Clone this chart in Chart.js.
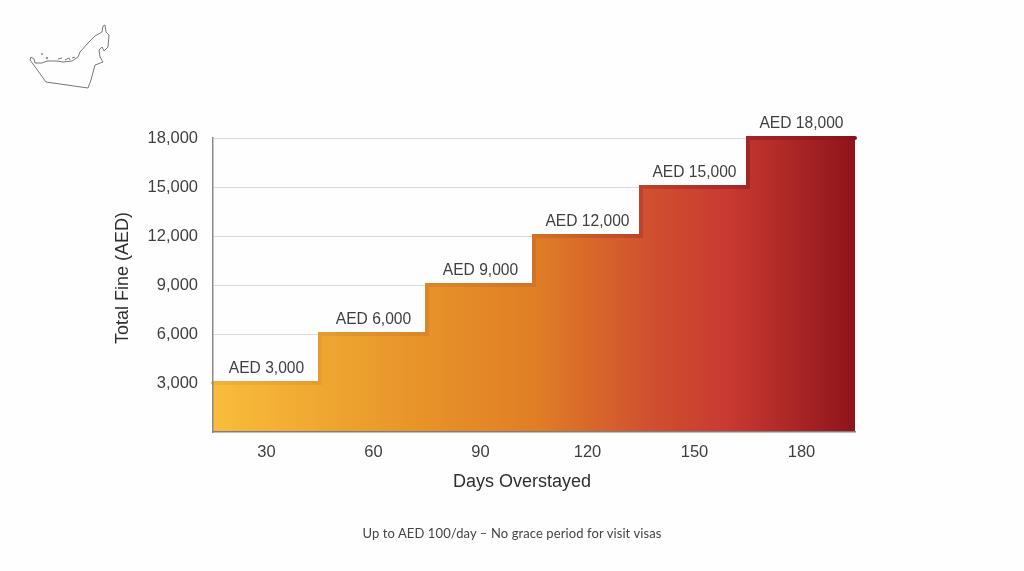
<!DOCTYPE html>
<html>
<head>
<meta charset="utf-8">
<title>UAE overstay fines</title>
<script src="https://cdn.jsdelivr.net/npm/chart.js@4"></script>
<style>
    html, body { margin: 0; padding: 0; background: #fefefe; }
    #wrap { position: relative; width: 1024px; height: 571px; overflow: hidden; }
    #fineChart { position: absolute; left: 0; top: 0; }
    #uaeMap { position: absolute; left: 0; top: 0; }
    #caption {
        position: absolute; left: 0; top: 525px; width: 1024px; text-align: center;
        font: 13px Lato, sans-serif; letter-spacing: 0.1px; color: #444;
    }
</style>
</head>
<body>
<div id="wrap">
    <canvas id="fineChart" width="1024" height="571"></canvas>
    <svg id="uaeMap" width="200" height="120" fill="none" stroke="#777" stroke-width="1">
        <path d="M31 57 L30 60 L33 64 L46 82 L88 88 L91 80 L95 65 L103 62 L100 57 L99 50 L102 47 L104 51 L108 47 L109 35 L106 32 L105 25 L103 26 L102 32 L95 36 L88 43 L80 52 L78 57 L72 61 L63 62 L57 61 L47 61 L42 63 L35 63 L34 59 Z"/>
        <path d="M58 59 L62 58 M65 60 L69 58 L70 60 M72 58 L75 57"/>
        <circle cx="42" cy="54" r="0.6"/>
        <circle cx="47" cy="58" r="0.8"/>
    </svg>
    <div id="caption">Up to AED 100/day – No grace period for visit visas</div>
</div>

<script>
// ==================== DATA ====================
const days = [30, 60, 90, 120, 150, 180];
const fines = [3000, 6000, 9000, 12000, 15000, 18000];
const fineTicks = [3000, 6000, 9000, 12000, 15000, 18000];
const stepStarts = [15, 45, 75, 105, 135, 165];
const xEnd = 195;

const fillStops = ['#f9bd3b', '#e8962a', '#e07f25', '#d0502f', '#c93a31', '#8f141b'];
const fillOffsets = [0, 0.3, 0.5, 0.68, 0.8, 1];
const lineStops = ['#f0b33a', '#dc8a28', '#d27325', '#bb3f2a', '#a92a2a', '#861219'];

function makeGradient(chart, colors) {
    const area = chart.chartArea;
    if (!area) return colors[0];
    const g = chart.ctx.createLinearGradient(area.left, 0, area.right, 0);
    colors.forEach((c, i) => g.addColorStop(fillOffsets[i], c));
    return g;
}

// the last step runs on to the right edge at the same height
const stepPoints = stepStarts.map((x, i) => ({ x: x, y: fines[i] }));
stepPoints.push({ x: xEnd, y: fines[fines.length - 1] });

// "AED n" over every step, plus the axis titles (they sit off centre in the original)
const chartTexts = {
    id: 'chartTexts',
    afterDatasetsDraw(chart) {
        const { ctx, scales, chartArea } = chart;
        ctx.save();
        ctx.font = '15.6px "Liberation Sans"';
        ctx.fillStyle = '#3f3f3f';
        ctx.textAlign = 'center';
        ctx.textBaseline = 'alphabetic';
        days.forEach((d, i) => {
            const label = 'AED ' + fines[i].toLocaleString('en-US');
            ctx.fillText(label, scales.x.getPixelForValue(d), scales.y.getPixelForValue(fines[i]) - 10.5);
        });

        ctx.font = '18px "Liberation Sans"';
        ctx.fillStyle = '#2f2f2f';
        ctx.textBaseline = 'middle';
        ctx.fillText('Days Overstayed', 522, chartArea.bottom + 50);
        ctx.translate(chartArea.left - 90, 278);
        ctx.rotate(-Math.PI / 2);
        ctx.fillText('Total Fine (AED)', 0, 0);
        ctx.restore();
    }
};

new Chart(document.getElementById('fineChart'), {
    type: 'line',
    data: {
        datasets: [{
            data: stepPoints,
            stepped: 'before',
            fill: 'origin',
            clip: false,
            pointRadius: 0,
            borderWidth: 4,
            borderCapStyle: 'round',
            borderJoinStyle: 'miter',
            borderColor: ctx => makeGradient(ctx.chart, lineStops),
            backgroundColor: ctx => makeGradient(ctx.chart, fillStops)
        }]
    },
    options: {
        responsive: false,
        animation: false,
        layout: { padding: { left: 108, right: 169, top: 138, bottom: 75 } },
        plugins: { legend: { display: false }, tooltip: { enabled: false } },
        scales: {
            x: {
                type: 'linear',
                min: stepStarts[0],
                max: xEnd,
                afterBuildTicks: scale => { scale.ticks = days.map(v => ({ value: v })); },
                afterFit: scale => { scale.height = 64; },
                grid: { display: false },
                border: { color: '#7d7d7d', width: 1.5, z: 1 },
                ticks: { padding: 3, maxRotation: 0, color: '#3f3f3f', font: { family: 'Liberation Sans', size: 16.5 } },
            },
            y: {
                min: 0,
                max: 18000,
                afterBuildTicks: scale => { scale.ticks = fineTicks.map(v => ({ value: v })); },
                afterFit: scale => { scale.width = 105; },
                grid: { color: '#d9d9d9', lineWidth: 1, drawTicks: false },
                border: { color: '#8a8a8a', width: 1.5, z: 1 },
                ticks: { padding: 15, color: '#3f3f3f', font: { family: 'Liberation Sans', size: 16.5 } },
            }
        }
    },
    plugins: [chartTexts]
});
</script>
</body>
</html>
